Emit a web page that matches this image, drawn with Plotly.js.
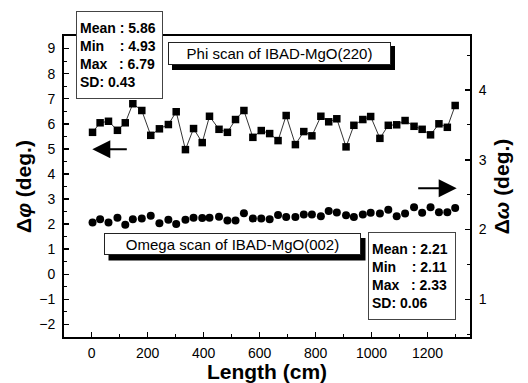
<!DOCTYPE html>
<html><head><meta charset="utf-8">
<script src="https://cdn.plot.ly/plotly-3.0.1.min.js"></script>
<style>html,body{margin:0;padding:0;background:#fff}</style>
</head><body>
<div id="chart" style="width:528px;height:383px"></div>
<script>
// ---- data ----
const lengthCm = [3, 30, 60, 92, 120, 147, 179, 211, 242, 274, 302, 335, 364, 395, 421, 455, 485, 514, 544, 576, 606, 636, 666, 695, 728, 758, 787, 819, 847, 876, 909, 937, 969, 997, 1030, 1060, 1090, 1120, 1152, 1181, 1211, 1241, 1271, 1299];
const phiDeg = [5.66, 6.04, 6.10, 5.74, 6.04, 6.80, 6.53, 5.54, 5.80, 5.97, 6.48, 4.97, 5.81, 5.25, 6.30, 5.78, 5.66, 6.17, 6.53, 5.46, 5.73, 5.61, 5.33, 6.33, 5.17, 5.69, 5.52, 6.30, 6.08, 6.20, 5.08, 5.94, 6.17, 6.29, 5.42, 5.94, 5.96, 6.13, 5.90, 5.78, 5.56, 6.00, 5.86, 6.73];
const omegaDeg = [2.10, 2.15, 2.10, 2.17, 2.07, 2.15, 2.16, 2.20, 2.09, 2.14, 2.08, 2.14, 2.17, 2.165, 2.17, 2.185, 2.13, 2.13, 2.235, 2.16, 2.16, 2.15, 2.21, 2.18, 2.18, 2.215, 2.215, 2.19, 2.265, 2.245, 2.205, 2.18, 2.215, 2.24, 2.23, 2.285, 2.19, 2.23, 2.32, 2.24, 2.32, 2.25, 2.25, 2.31];
const xTicks = [0, 200, 400, 600, 800, 1000, 1200];
const phiStats = ["Mean : 5.86", "Min\u00a0\u00a0\u00a0 : 4.93", "Max\u00a0\u00a0 : 6.79", "SD: 0.43"];
const omegaStats = ["Mean : 2.21", "Min\u00a0\u00a0\u00a0 : 2.11", "Max\u00a0\u00a0 : 2.33", "SD: 0.06"];
const phiLabel = "Phi scan of IBAD-MgO(220)";
const omegaLabel = "Omega scan of IBAD-MgO(002)";

// ---- layout helpers (pixel -> paper) ----
const W = 528, H = 383, M = {l: 64, r: 58, t: 36, b: 46};
const PW = W - M.l - M.r, PH = H - M.t - M.b;
const fx = px => (px - M.l) / PW;
const fy = py => (H - M.b - py) / PH;
const FONT = "Liberation Sans, Arial, sans-serif";

const traces = [
  {x: lengthCm, y: phiDeg, mode: "lines+markers", yaxis: "y",
   line: {color: "#000", width: 0.8},
   marker: {symbol: "square", size: 7.5, color: "#000"}},
  {x: lengthCm, y: omegaDeg, mode: "markers", yaxis: "y2",
   marker: {symbol: "circle", size: 8, color: "#000"}}
];

const axCommon = {showline: true, linecolor: "#000", linewidth: 2, ticks: "inside",
  tickcolor: "#000", tickwidth: 1.5, ticklen: 5, showgrid: false, zeroline: false,
  tickfont: {family: FONT, size: 14, color: "#000"}};

const layout = {
  width: W, height: H, margin: M, showlegend: false,
  paper_bgcolor: "#fff", plot_bgcolor: "#fff",
  font: {family: FONT, color: "#000"},
  xaxis: Object.assign({}, axCommon, {range: [-99, 1352], tickvals: xTicks, mirror: true,
    minor: {dtick: 100, tick0: 0, ticks: "inside", ticklen: 3, tickcolor: "#000", tickwidth: 1},
    ticklabelstandoff: 2,
    title: {text: "<b>Length (cm)</b>", font: {family: FONT, size: 21}, standoff: 6}}),
  yaxis: Object.assign({}, axCommon, {range: [-2.5, 9.5], dtick: 1, tick0: 0,
    minor: {dtick: 0.5, ticks: "inside", ticklen: 3, tickcolor: "#000", tickwidth: 1},
    ticklabelstandoff: 4,
    title: {text: "<b>Δ<i>φ</i> (deg.)</b>", font: {family: FONT, size: 21}, standoff: 2}}),
  yaxis2: Object.assign({}, axCommon, {range: [0.461, 4.774], dtick: 1, tick0: 0,
    overlaying: "y", side: "right",
    minor: {dtick: 0.5, ticks: "inside", ticklen: 3, tickcolor: "#000", tickwidth: 1},
    ticklabelstandoff: 4,
    title: {text: "<b>Δ<i>ω</i> (deg.)</b>", font: {family: FONT, size: 21}, standoff: 9}}),
  shapes: [
    {type: "rect", xref: "paper", yref: "paper", x0: fx(172), x1: fx(395), y0: fy(70), y1: fy(46),
     fillcolor: "#000", line: {width: 0}, layer: "above"},
    {type: "rect", xref: "paper", yref: "paper", x0: fx(108.5), x1: fx(365.5), y0: fy(260.5), y1: fy(238),
     fillcolor: "#000", line: {width: 0}, layer: "above"}
  ],
  annotations: [
    {xref: "paper", yref: "paper", x: fx(76), y: fy(11), xanchor: "left", yanchor: "top",
     text: "<b>" + phiStats.join("<br>") + "</b>", align: "left", showarrow: false,
     font: {family: FONT, size: 14, color: "#000"}, width: 79, height: 80, valign: "middle",
     bgcolor: "#fff", bordercolor: "#444", borderwidth: 1, borderpad: 3},
    {xref: "paper", yref: "paper", x: fx(367.7), y: fy(232.3), xanchor: "left", yanchor: "top",
     text: "<b>" + omegaStats.join("<br>") + "</b>", align: "left", showarrow: false,
     font: {family: FONT, size: 14, color: "#000"}, width: 80, height: 80, valign: "middle",
     bgcolor: "#fff", bordercolor: "#444", borderwidth: 1, borderpad: 3},
    {xref: "paper", yref: "paper", x: fx(279), y: fy(53.4), xanchor: "center", yanchor: "middle",
     text: phiLabel, showarrow: false, font: {family: FONT, size: 15, color: "#000"},
     width: 221, height: 21, bgcolor: "#fff", bordercolor: "#222", borderwidth: 1, borderpad: 0},
    {xref: "paper", yref: "paper", x: fx(232.5), y: fy(244.2), xanchor: "center", yanchor: "middle",
     text: omegaLabel, showarrow: false, font: {family: FONT, size: 15, color: "#000"},
     width: 255, height: 20, bgcolor: "#fff", bordercolor: "#222", borderwidth: 1, borderpad: 0},
    {xref: "paper", yref: "paper", x: fx(92.3), y: fy(149.3), text: "", showarrow: true,
     ax: 36, ay: 0, arrowhead: 2, arrowsize: 1.8, arrowwidth: 2, arrowcolor: "#000", standoff: 0},
    {xref: "paper", yref: "paper", x: fx(456.7), y: fy(188.3), text: "", showarrow: true,
     ax: -40, ay: 0, arrowhead: 2, arrowsize: 1.8, arrowwidth: 2, arrowcolor: "#000", standoff: 0}
  ]
};

Plotly.newPlot("chart", traces, layout, {displayModeBar: false, staticPlot: true});
</script>
</body></html>
